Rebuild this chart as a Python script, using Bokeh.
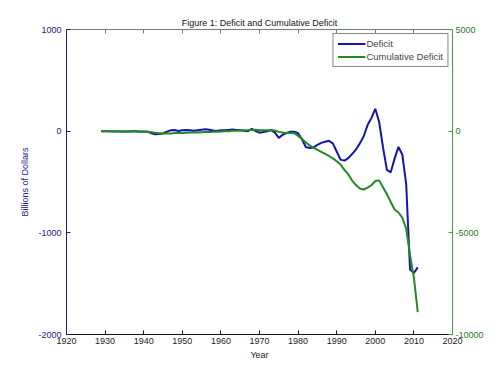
from bokeh.plotting import figure
from bokeh.models import Range1d, LinearAxis, FixedTicker, Legend, LegendItem, ColumnDataSource
from bokeh.embed import file_html
from bokeh.resources import INLINE

years = list(range(1929, 2012))
deficit = [0, 0, -1, -3, -3, -4, -3, -4, -2, 0, -3, -3, -5,
           -20, -30, -28, -22, -5, 8, 12, 2, 10, 12, 8, 4, 10, 14, 18, 14, 6, 2,
           10, 8, 12, 16, 12, 8, 4, 0, 22, 0,
           -15, -8, 0, 10, -15, -66, -35, -18, -5, -5,
           -20, -80, -155, -165, -160, -135, -115, -105, -95, -120,
           -200, -280, -290, -265, -225, -180, -120, -50, 60, 130,
           220, 90, -160, -380, -405, -270, -155, -230, -520, -1360,
           -1395, -1340]
cumulative = [0, 0, 0, -5, -10, -15, -15, -20, -20, -20, -25, -25, -30,
              -50, -80, -100, -120, -120, -110, -95, -90, -85, -75, -70, -70, -65, -55, -45, -35, -30, -30,
              -20, -10, 0, 15, 25, 35, 40, 40, 60, 65,
              50, 40, 40, 50, 30, -35, -70, -90, -95, -100,
              -230, -380, -560, -700, -820, -920, -1020, -1120, -1220, -1340,
              -1480, -1640, -1900, -2130, -2430, -2650, -2820, -2870, -2780, -2660,
              -2450, -2420, -2760, -3100, -3480, -3850, -4000, -4250, -4800, -6100,
              -7200, -8900]

x_ticks = list(range(1920, 2021, 10))
left_ticks = [-2000, -1000, 0, 1000]
right_ticks = [-10000, -5000, 0, 5000]

FONT = "Liberation Sans"
BLUE = "#1414b0"
GREEN = "#238a23"

src = ColumnDataSource(dict(year=years, deficit=deficit, cumulative=cumulative))

p = figure(width=492, height=367, output_backend="svg", toolbar_location=None,
           x_range=Range1d(1920, 2020), y_range=Range1d(-2000, 1000),
           title="Figure 1: Deficit and Cumulative Deficit",
           min_border_left=66, min_border_right=40, min_border_top=29, min_border_bottom=33,
           x_axis_location=None, y_axis_location=None)
p.extra_y_ranges = {"cum": Range1d(-10000, 5000)}
p.grid.visible = False
p.outline_line_color = None
p.background_fill_color = "white"
p.border_fill_color = "white"

p.title.text_font = FONT
p.title.text_font_size = "9px"
p.title.text_font_style = "normal"
p.title.align = "center"
p.title.text_color = "#111111"
p.title.standoff = 4

def style(ax, color, label_color):
    ax.axis_line_color = color
    ax.major_tick_line_color = color
    ax.major_tick_in = 4
    ax.major_tick_out = 0
    ax.minor_tick_line_color = None
    ax.major_label_text_font = FONT
    ax.major_label_text_font_size = "9px"
    ax.major_label_text_color = label_color
    ax.axis_label_text_font = FONT
    ax.axis_label_text_font_size = "9px"
    ax.axis_label_text_font_style = "normal"
    ax.axis_label_text_color = label_color

xb = LinearAxis(ticker=FixedTicker(ticks=x_ticks), axis_label="Year",
                major_label_overrides={t: str(t) for t in x_ticks})
style(xb, "#111111", "#222222")
xb.major_label_standoff = 3
xb.axis_label_standoff = 3
p.add_layout(xb, "below")

xt = LinearAxis(ticker=FixedTicker(ticks=x_ticks),
                major_label_overrides={t: "" for t in x_ticks})
style(xt, "#7a7a7a", "#7a7a7a")
xt.major_label_standoff = 0
xt.major_label_text_font_size = "1px"
p.add_layout(xt, "above")

yl = LinearAxis(ticker=FixedTicker(ticks=left_ticks), axis_label="Billions of Dollars",
                major_label_overrides={t: str(t) for t in left_ticks})
style(yl, "#1a1a8c", "#1a1a8c")
yl.major_label_standoff = 5
yl.axis_label_standoff = 5
p.add_layout(yl, "left")

yr = LinearAxis(y_range_name="cum", ticker=FixedTicker(ticks=right_ticks),
                major_label_overrides={t: str(t) for t in right_ticks})
style(yr, "#4a9a4a", "#2a7a2a")
yr.major_label_standoff = 3
p.add_layout(yr, "right")

r1 = p.line("year", "deficit", source=src, line_color=BLUE, line_width=2)
r2 = p.line("year", "cumulative", source=src, y_range_name="cum", line_color=GREEN, line_width=2)

legend = Legend(items=[LegendItem(label="Deficit", renderers=[r1]),
                       LegendItem(label="Cumulative Deficit", renderers=[r2])],
                location="top_right")
legend.margin = 4
legend.padding = 4
legend.spacing = 2
legend.label_text_font = FONT
legend.label_text_font_size = "9.5px"
legend.label_height = 11
legend.glyph_height = 11
legend.glyph_width = 28
legend.label_standoff = 1
legend.border_line_color = "#111111"
legend.border_line_width = 1
legend.background_fill_color = "white"
legend.background_fill_alpha = 1
p.add_layout(legend, "center")

open("out.html", "w").write(file_html(p, INLINE))
